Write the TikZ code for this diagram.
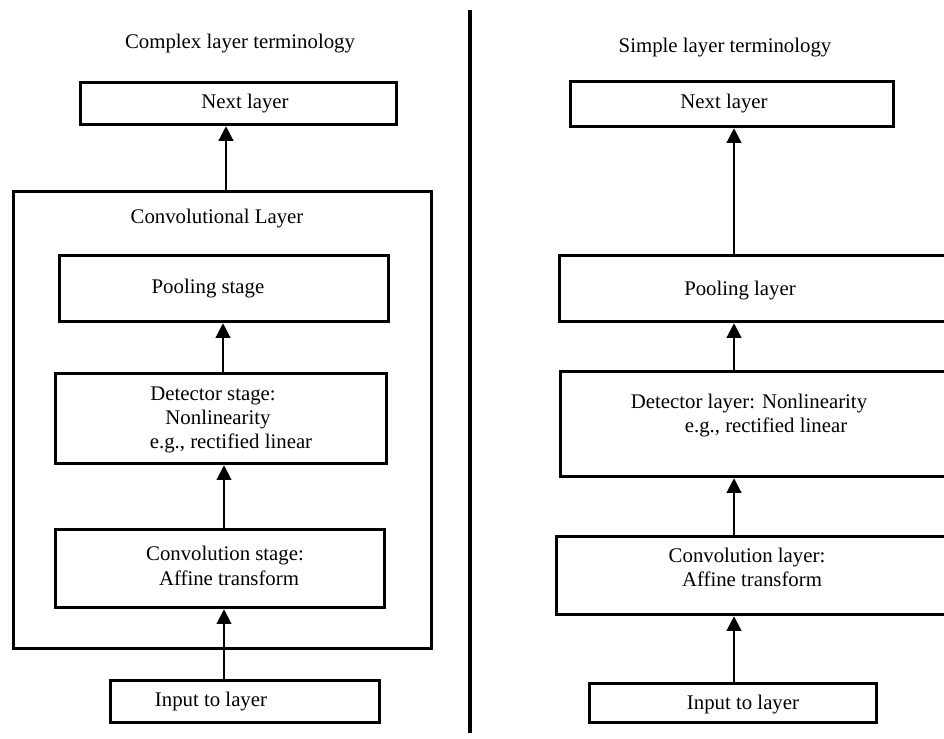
\documentclass[tikz,border=0pt]{standalone}
\usepackage{fontspec}
\setmainfont{Liberation Serif}
\usetikzlibrary{arrows.meta}
\tikzset{
  box/.style={draw, line width=2.7pt, rectangle, inner sep=0pt},
  wh/.style 2 args={minimum width=#1*0.75pt, minimum height=#2*0.75pt},
  txt/.style={inner sep=0pt, anchor=base, font=\fontsize{15.6}{18.5}\selectfont},
  arr/.style={line width=0.9pt, -{Triangle[width=11.25pt,length=11pt]}},
  divider/.style={line width=3pt}
}
\begin{document}
\begin{tikzpicture}[x=0.75pt,y=-0.75pt]
\useasboundingbox (0,0) rectangle (944,738);
\clip (0,0) rectangle (944,738);

% ---------- left column: complex layer terminology ----------
\node[txt] (titleL) at (240,49) {Complex layer terminology};

\node[box, wh={316}{42}] (nextL) at (238.5,103.5) {};
\node[txt] (nextLt) at (245,109) {Next layer};

\node[box, wh={418}{457}] (layerL) at (222.5,420) {};
\node[txt] (layerLt) at (217,223) {Convolutional Layer};

\node[box, wh={329}{66}] (poolL) at (224,288.5) {};
\node[txt] (poolLt) at (208,293) {Pooling stage};

\node[box, wh={331}{90}] (detL) at (221,418.5) {};
\node[txt] (detLa) at (213,400) {Detector stage:};
\node[txt] (detLb) at (218,424) {Nonlinearity};
\node[txt] (detLc) at (231,448) {e.g., rectified linear};

\node[box, wh={329}{78}] (convL) at (220,568.5) {};
\node[txt] (convLa) at (225,560) {Convolution stage:};
\node[txt] (convLb) at (229,585) {Affine transform};

\node[box, wh={269}{42}] (inL) at (245,701.5) {};
\node[txt] (inLt) at (211,706) {Input to layer};

\coordinate (axL1) at (226,0);
\coordinate (axL2) at (223,0);
\coordinate (axL3) at (224,0);
\draw[arr] (layerL.north -| axL1) -- (nextL.south -| axL1);
\draw[arr] (detL.north -| axL2) -- (poolL.south -| axL2);
\draw[arr] (convL.north -| axL3) -- (detL.south -| axL3);
\draw[arr] (inL.north -| axL3) -- (convL.south -| axL3);

% ---------- divider ----------
\coordinate (divTop) at (469.5,10);
\coordinate (divBot) at (469.5,733);
\draw[divider] (divTop) -- (divBot);

% ---------- right column: simple layer terminology ----------
\node[txt] (titleR) at (725,53) {Simple layer terminology};

\node[box, wh={323}{45}] (nextR) at (732,104) {};
\node[txt] (nextRt) at (724,109) {Next layer};

\node[box, wh={399}{66}] (poolR) at (759,288.5) {};
\node[txt] (poolRt) at (740,295) {Pooling layer};

\node[box, wh={398}{105}] (detR) at (759.5,424) {};
\node[txt] (detRa) at (749,408) {Detector layer: Nonlinearity};
\node[txt] (detRb) at (766,432) {e.g., rectified linear};

\node[box, wh={402}{78}] (convR) at (757.5,575.5) {};
\node[txt] (convRa) at (747,562) {Convolution layer:};
\node[txt] (convRb) at (752,586) {Affine transform};

\node[box, wh={287}{39}] (inR) at (733,703) {};
\node[txt] (inRt) at (743,709) {Input to layer};

\coordinate (axR) at (734,0);
\draw[arr] (poolR.north -| axR) -- (nextR.south -| axR);
\draw[arr] (detR.north -| axR) -- (poolR.south -| axR);
\draw[arr] (convR.north -| axR) -- (detR.south -| axR);
\draw[arr] (inR.north -| axR) -- (convR.south -| axR);
\end{tikzpicture}
\end{document}
